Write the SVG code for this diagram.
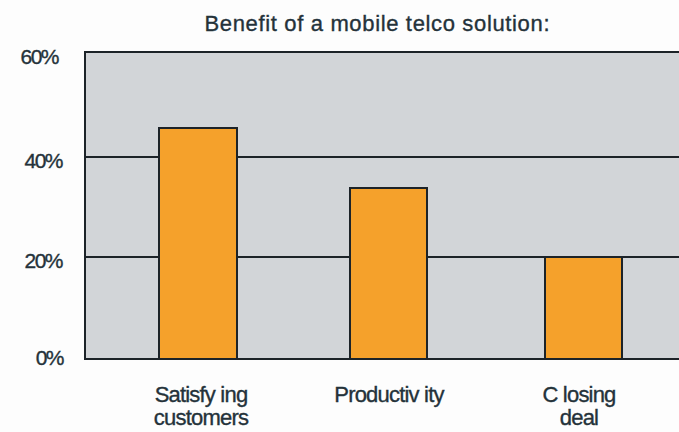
<svg xmlns="http://www.w3.org/2000/svg" width="679" height="432" viewBox="0 0 679 432">
  <style>
    .txt { font-family: "Liberation Sans", Arial, sans-serif; fill: #24323a; stroke: #24323a; stroke-width: 0.35; }
    .title { font-size: 22px; }
    .axis { font-size: 21px; text-anchor: end; letter-spacing: -1.5px; }
    .cat { font-size: 22px; text-anchor: middle; letter-spacing: -0.8px; }
    .grid { stroke: #1c2328; stroke-width: 2; fill: none; }
    .bar { fill: #f5a12b; stroke: #1c2328; stroke-width: 2; }
  </style>
  <rect x="0" y="0" width="679" height="432" fill="#fdfdfd"/>
  <g id="title">
    <text class="txt title" x="377" y="31" text-anchor="middle" textLength="345" lengthAdjust="spacing">Benefit of a mobile telco solution:</text>
  </g>
  <g id="plot-area">
    <rect x="85" y="52" width="594" height="307" fill="#d2d5d8"/>
  </g>
  <g id="connectors">
    <line class="grid" x1="85" y1="52" x2="679" y2="52"/>
    <line class="grid" x1="85" y1="157" x2="679" y2="157"/>
    <line class="grid" x1="85" y1="257" x2="679" y2="257"/>
    <line class="grid" x1="85" y1="359" x2="679" y2="359"/>
    <line class="grid" x1="85" y1="51" x2="85" y2="360"/>
  </g>
  <g id="axis-labels">
    <text class="txt axis" x="58" y="64">60%</text>
    <text class="txt axis" x="62" y="168">40%</text>
    <text class="txt axis" x="62" y="268">20%</text>
    <text class="txt axis" x="63" y="365">0%</text>
  </g>
  <g id="bar-satisfying">
    <rect class="bar" x="159" y="128" width="78" height="231"/>
    <text class="txt cat" x="201" y="402">Satisfy ing</text>
    <text class="txt cat" x="201" y="425">customers</text>
  </g>
  <g id="bar-productivity">
    <rect class="bar" x="350" y="188" width="77" height="171"/>
    <text class="txt cat" x="389" y="402">Productiv ity</text>
  </g>
  <g id="bar-closing">
    <rect class="bar" x="545" y="257" width="77" height="102"/>
    <text class="txt cat" x="579" y="402">C losing</text>
    <text class="txt cat" x="579" y="425">deal</text>
  </g>
</svg>
